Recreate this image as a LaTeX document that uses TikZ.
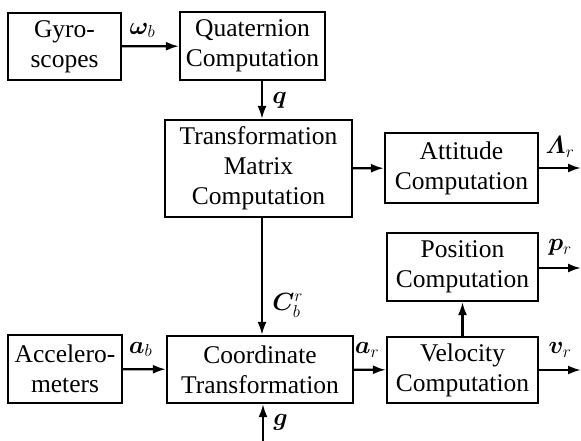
\documentclass[tikz,border=0pt]{standalone}
\usepackage{amsmath}
\usepackage{bm}
\usepackage{fontspec}
\setmainfont{Liberation Serif}
\usetikzlibrary{arrows.meta}

\begin{document}
\begin{tikzpicture}[x=1pt, y=-1pt, >={Latex[length=13pt,width=9pt]},
  block/.style={draw, line width=2.2pt, align=center, inner sep=0pt,
    font=\fontsize{25.5}{30}\selectfont},
  flow/.style={->, line width=2.2pt},
  sig/.style={font=\fontsize{24}{26}\selectfont}]

  \useasboundingbox (0,0) rectangle (581,441);

  % blocks
  \node[block, minimum width=113, minimum height=67] (gyro) at (64.5,46.5) {Gyro-\\scopes};
  \node[block, minimum width=145, minimum height=68] (quat) at (252.5,46) {Quaternion\\Computation};
  \node[block, minimum width=187, minimum height=97] (trans) at (258.5,168.5) {Transformation\\Matrix\\Computation};
  \node[block, minimum width=153, minimum height=70] (att) at (461.5,168) {Attitude\\Computation};
  \node[block, minimum width=151, minimum height=68] (pos) at (462.5,267) {Position\\Computation};
  \node[block, minimum width=114, minimum height=68] (acc) at (65,369) {Accelero-\\meters};
  \node[block, minimum width=186, minimum height=67] (coord) at (260,369.5) {Coordinate\\Transformation};
  \node[block, minimum width=151, minimum height=66] (vel) at (462.5,370) {Velocity\\Computation};

  % free ends
  \coordinate (mid) at (262,0);
  \coordinate (attout) at (581,168);
  \coordinate (posout) at (581,268);
  \coordinate (velout) at (581,370);
  \coordinate (gin) at (263,441);

  % connectors
  \draw[flow] (gyro) -- (quat) node[sig, midway, above=4pt, xshift=-8pt] {$\bm{\omega}_b$};
  \draw[flow] (quat.south -| mid) -- (trans.north -| mid) node[sig, midway, right=6pt] {$\bm{q}$};
  \draw[flow] (trans) -- (att);
  \draw[flow] (att.east) -- (attout) node[sig, midway, above=6pt] {$\bm{\varLambda}_r$};
  \draw[flow] (trans.south -| mid) -- (coord.north -| mid) node[sig, pos=0.75, right=6pt] {$\bm{C}_b^r$};
  \draw[flow] (acc) -- (coord) node[sig, midway, above=8pt, xshift=-4pt] {$\bm{a}_b$};
  \draw[flow] (gin) -- (coord.south -| gin) node[sig, midway, right=6pt] {$\bm{g}$};
  \draw[flow] (coord) -- (vel) node[sig, midway, above=8pt, xshift=-3pt] {$\bm{a}_r$};
  \draw[flow] (vel.north -| pos.south) -- (pos.south);
  \draw[flow] (pos.east |- posout) -- (posout) node[sig, midway, above=8pt] {$\bm{p}_r$};
  \draw[flow] (vel.east |- velout) -- (velout) node[sig, midway, above=8pt] {$\bm{v}_r$};

\end{tikzpicture}
\end{document}
